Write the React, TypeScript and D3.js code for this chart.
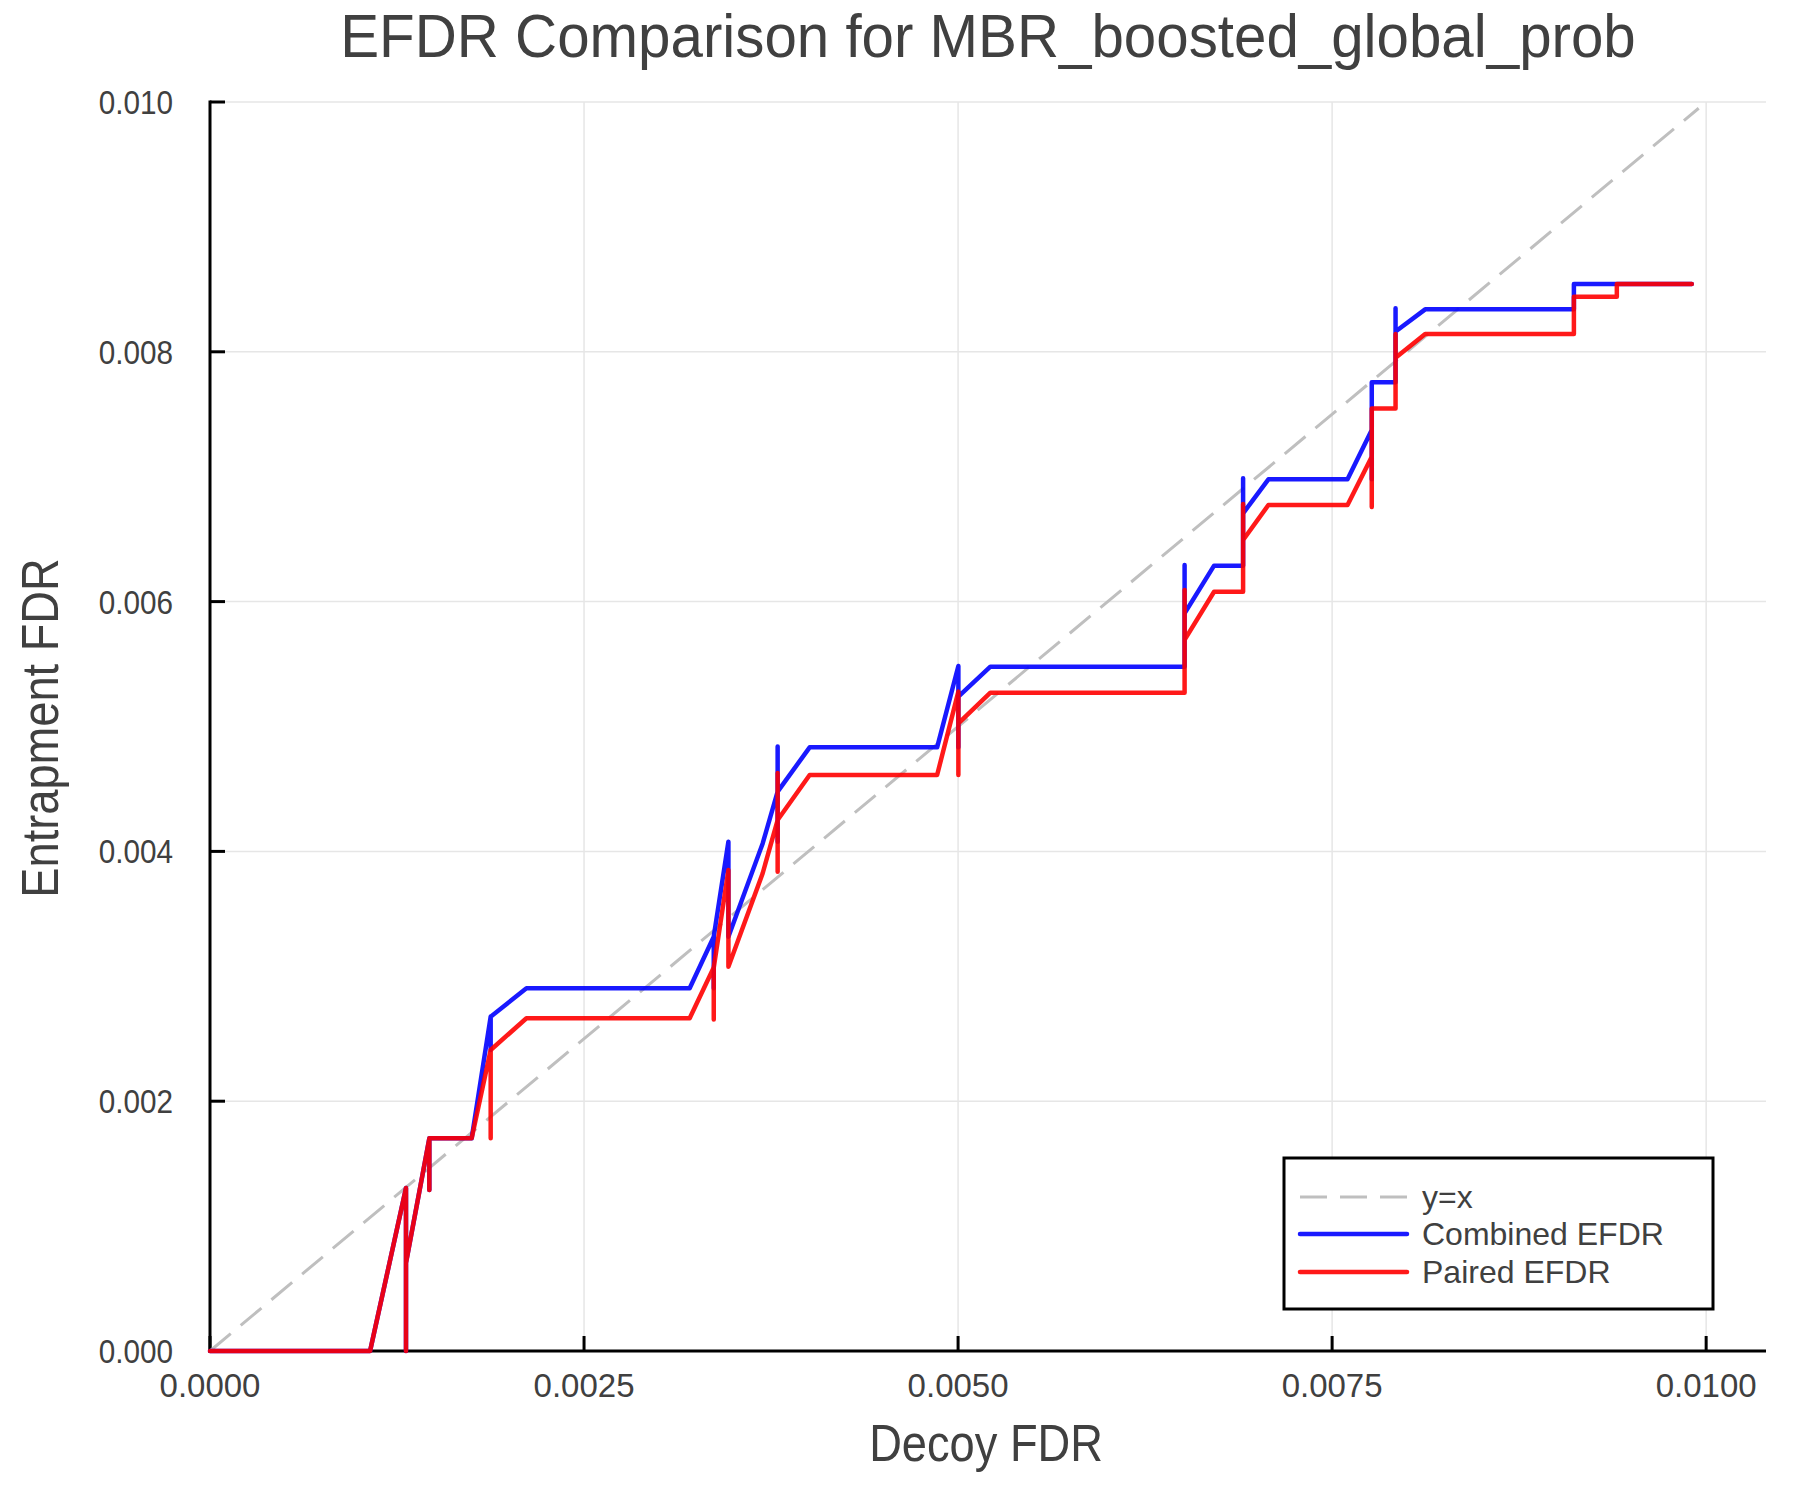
import { useMemo } from "react";
import * as d3 from "d3";

const title = "EFDR Comparison for MBR_boosted_global_prob";
const xLabel = "Decoy FDR";
const yLabel = "Entrapment FDR";

const xTicks = [0, 0.0025, 0.005, 0.0075, 0.01];
const yTicks = [0, 0.002, 0.004, 0.006, 0.008, 0.01];

// decoy FDR (shared x for both curves, repeated values make the spikes)
const decoyFdr = [
    0, 0.00107, 0.00131, 0.00131, 0.00131, 0.001466, 0.001466, 0.001466, 0.001749,
    0.001876, 0.001876, 0.001876, 0.002115, 0.003206, 0.003367, 0.003367, 0.003367,
    0.003465, 0.003465, 0.003465, 0.003694, 0.003794, 0.003794, 0.003794, 0.003794,
    0.004008, 0.00486, 0.005002, 0.005002, 0.005002, 0.005216, 0.006514, 0.006514,
    0.006514, 0.006711, 0.006905, 0.006905, 0.006905, 0.007074, 0.007603, 0.007765,
    0.007765, 0.007765, 0.007924, 0.007924, 0.007924, 0.008122, 0.009116, 0.009116,
    0.009403, 0.009403, 0.009904,
];

const combinedEfdr = [
    0, 0, 0.001305, 0, 0.000705, 0.001703, 0.001289, 0.001703, 0.001703,
    0.002677, 0.00241, 0.002677, 0.002904, 0.002904, 0.003317, 0.002904, 0.003317,
    0.004078, 0.003317, 0.003317, 0.004064, 0.004479, 0.00484, 0.004078, 0.004479,
    0.004833, 0.004833, 0.005484, 0.004833, 0.005239, 0.005479, 0.005479, 0.006293,
    0.005906, 0.006288, 0.006288, 0.006987, 0.006707, 0.006979, 0.006979, 0.007374,
    0.006979, 0.007756, 0.007756, 0.008348, 0.008162, 0.00834, 0.00834, 0.008543,
    0.008543, 0.008543, 0.008543,
];

const pairedEfdr = [
    0, 0, 0.001305, 0, 0.000705, 0.001703, 0.001289, 0.001703, 0.001703,
    0.00241, 0.001703, 0.00241, 0.002664, 0.002664, 0.00307, 0.002655, 0.00307,
    0.003851, 0.003077, 0.003077, 0.003825, 0.004251, 0.004628, 0.003838, 0.004251,
    0.004612, 0.004612, 0.005279, 0.004612, 0.005025, 0.005271, 0.005271, 0.006093,
    0.005693, 0.006079, 0.006079, 0.006781, 0.006493, 0.006773, 0.006773, 0.00716,
    0.006757, 0.007547, 0.007547, 0.008142, 0.007953, 0.008142, 0.008142, 0.008441,
    0.008441, 0.008543, 0.008543,
];

const diagonal = [0, 0.00995];

const legendItems = [
    { label: "y=x", color: "#bfbfbf", dash: "27 13", width: 3, opacity: 1 },
    { label: "Combined EFDR", color: "#0000ff", dash: undefined, width: 4.5, opacity: 0.9 },
    { label: "Paired EFDR", color: "#ff0000", dash: undefined, width: 4.5, opacity: 0.9 },
];

const W = 1800;
const H = 1500;
const left = 210;
const right = 1766;
const top = 102;
const bottom = 1351;
const textColor = "#404040";
const font = "'Liberation Sans', Arial, Helvetica, sans-serif";

type NarrowProps = {
    x: number;
    y: number;
    size: number;
    squeeze?: number;
    anchor?: "start" | "middle" | "end";
    rotate?: number;
    children: string;
};

// GR draws its labels in a slightly narrower face, so squeeze horizontally
const NarrowText = ({ x, y, size, squeeze = 1, anchor = "middle", rotate = 0, children }: NarrowProps) => (
    <g transform={`translate(${x},${y}) rotate(${rotate}) scale(${squeeze},1)`}>
        <text x={0} y={0} fontSize={size} fontFamily={font} fill={textColor} textAnchor={anchor}>
            {children}
        </text>
    </g>
);

export default function App() {
    const xScale = useMemo(() => d3.scaleLinear().domain([0, 0.0104]).range([left, right]), []);
    const yScale = useMemo(() => d3.scaleLinear().domain([0, 0.01]).range([bottom, top]), []);

    const lineGen = d3
        .line<[number, number]>()
        .x((d) => xScale(d[0]))
        .y((d) => yScale(d[1]));

    const combinedPath = lineGen(decoyFdr.map((x, i) => [x, combinedEfdr[i]]));
    const pairedPath = lineGen(decoyFdr.map((x, i) => [x, pairedEfdr[i]]));
    const diagPath = lineGen(diagonal.map((v) => [v, v] as [number, number]));

    const legX = 1284;
    const legY = 1158;
    const legW = 429;
    const legH = 151;
    const rowYs = [1197, 1234, 1272];

    return (
        <svg
            width={W}
            height={H}
            style={{ position: "absolute", left: 0, top: 0, background: "#fff" }}
        >
            <rect x={0} y={0} width={W} height={H} fill="#fff" />

            {/* grid */}
            {xTicks.map((t) => (
                <line key={"gx" + t} x1={xScale(t)} x2={xScale(t)} y1={top} y2={bottom} stroke="#e6e6e6" strokeWidth={1.5} />
            ))}
            {yTicks.map((t) => (
                <line key={"gy" + t} x1={left} x2={right} y1={yScale(t)} y2={yScale(t)} stroke="#e6e6e6" strokeWidth={1.5} />
            ))}

            {/* axes */}
            <line x1={left} x2={left} y1={top - 1.5} y2={bottom + 1.5} stroke="#000" strokeWidth={3} />
            <line x1={left - 1.5} x2={right} y1={bottom} y2={bottom} stroke="#000" strokeWidth={3} />
            {xTicks.map((t) => (
                <line key={"tx" + t} x1={xScale(t)} x2={xScale(t)} y1={bottom} y2={bottom - 15} stroke="#000" strokeWidth={3} />
            ))}
            {yTicks.map((t) => (
                <line key={"ty" + t} x1={left} x2={left + 15} y1={yScale(t)} y2={yScale(t)} stroke="#000" strokeWidth={3} />
            ))}

            {/* series */}
            <path d={diagPath ?? ""} fill="none" stroke="#bfbfbf" strokeWidth={3} strokeDasharray="27 13" />
            <path
                d={combinedPath ?? ""}
                fill="none"
                stroke="#0000ff"
                strokeOpacity={0.9}
                strokeWidth={4.5}
                strokeLinejoin="round"
                strokeLinecap="round"
            />
            <path
                d={pairedPath ?? ""}
                fill="none"
                stroke="#ff0000"
                strokeOpacity={0.9}
                strokeWidth={4.5}
                strokeLinejoin="round"
                strokeLinecap="round"
            />

            {/* tick labels */}
            {xTicks.map((t) => (
                <NarrowText key={"lx" + t} x={xScale(t)} y={1397} size={33}>
                    {d3.format(".4f")(t)}
                </NarrowText>
            ))}
            {yTicks.map((t) => (
                <NarrowText key={"ly" + t} x={173} y={yScale(t) + 12} size={33} squeeze={0.9} anchor="end">
                    {d3.format(".3f")(t)}
                </NarrowText>
            ))}

            {/* titles */}
            <NarrowText x={(left + right) / 2} y={57} size={62} squeeze={0.94}>
                {title}
            </NarrowText>
            <NarrowText x={986} y={1461} size={52} squeeze={0.87}>
                {xLabel}
            </NarrowText>
            <NarrowText x={58} y={728} size={52} squeeze={0.87} rotate={-90}>
                {yLabel}
            </NarrowText>

            {/* legend */}
            <rect x={legX} y={legY} width={legW} height={legH} fill="#fff" stroke="#000" strokeWidth={3} />
            {legendItems.map((item, i) => (
                <g key={item.label}>
                    <line
                        x1={1300}
                        x2={1407}
                        y1={rowYs[i]}
                        y2={rowYs[i]}
                        stroke={item.color}
                        strokeOpacity={item.opacity}
                        strokeWidth={item.width}
                        strokeDasharray={item.dash}
                        strokeLinecap={item.dash ? "butt" : "round"}
                    />
                    <NarrowText x={1422} y={rowYs[i] + 11} size={32} anchor="start">
                        {item.label}
                    </NarrowText>
                </g>
            ))}
        </svg>
    );
}
